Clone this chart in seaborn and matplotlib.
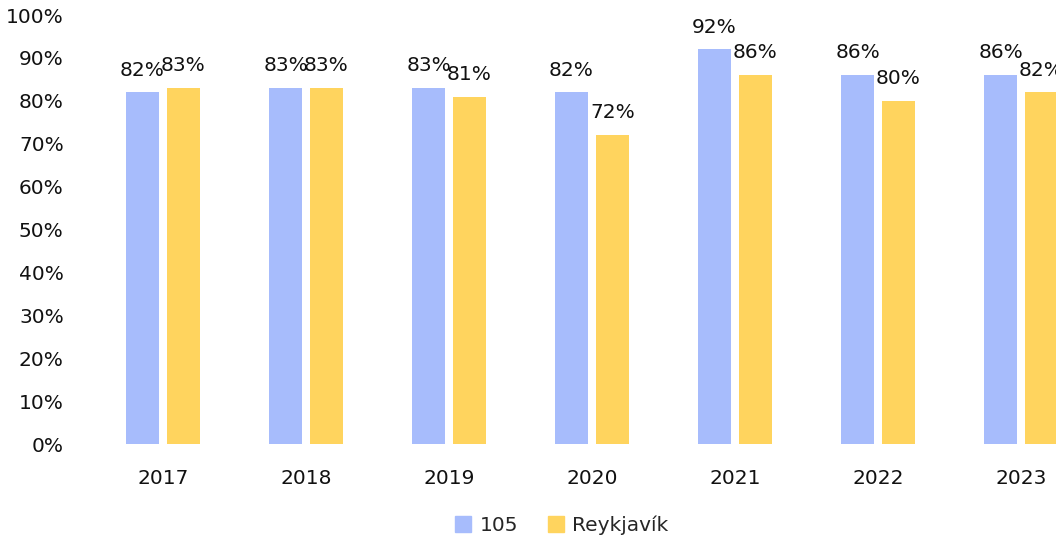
import pandas as pd
import matplotlib.pyplot as plt
import seaborn as sns

# Gögn lesin af myndinni
ar = ["2017", "2018", "2019", "2020", "2021", "2022", "2023"]
hlutfall_105 = [82, 83, 83, 82, 92, 86, 86]
hlutfall_rvk = [83, 83, 81, 72, 86, 80, 82]
flokkar = ["105", "Reykjavík"]
litir = ["#A7BCFC", "#FFD45E"]

df = pd.DataFrame({
    "Ár": ar * 2,
    "Hlutfall": hlutfall_105 + hlutfall_rvk,
    "Svæði": [flokkar[0]] * len(ar) + [flokkar[1]] * len(ar),
})

sns.set_theme(style="white")
plt.rcParams["font.family"] = ["DejaVu Sans"]

fig = plt.figure(figsize=(10.56, 5.43), dpi=100)
# ásinn nær út fyrir hægri brún eins og í fyrirmyndinni
ax = fig.add_axes([91.5 / 1056, 0.1823, 1001 / 1056, 0.790])

sns.barplot(data=df, x="Ár", y="Hlutfall", hue="Svæði", palette=litir,
            saturation=1, width=0.573, gap=0.2, ax=ax, legend=False,
            linewidth=0)

for cont in ax.containers:
    for bar in cont:
        h = bar.get_height()
        ax.annotate(f"{h:.0f}%", (bar.get_x() + bar.get_width() / 2, h),
                    xytext=(0, 12), textcoords="offset points",
                    ha="center", va="baseline", fontsize=14.5, color="#111111")

ax.set_ylim(0, 100)
ax.set_yticks(range(0, 101, 10))
ax.set_yticklabels([f"{v}%" for v in range(0, 101, 10)])
ax.set_xlabel("")
ax.set_ylabel("")
ax.tick_params(axis="both", length=0, labelsize=14.5, colors="#111111")
ax.tick_params(axis="y", pad=20)
ax.tick_params(axis="x", pad=18)
sns.despine(ax=ax, left=True, bottom=True)

handles = [plt.Rectangle((0, 0), 1, 1, color=c) for c in litir]
fig.legend(handles, flokkar, loc="center", bbox_to_anchor=(0.532, 0.033),
           ncol=2, frameon=False, fontsize=14.5, handlelength=0.8,
           handleheight=0.8, handletextpad=0.4, columnspacing=1.5)

plt.savefig("out.png", dpi=100)
